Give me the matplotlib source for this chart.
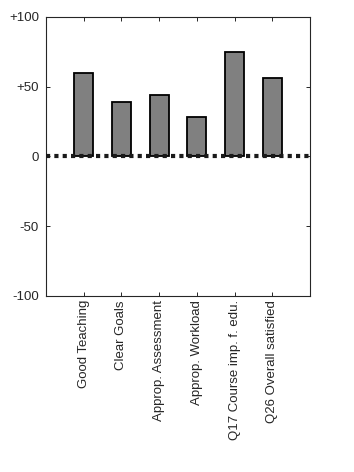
import matplotlib.pyplot as plt
import numpy as np

plt.rcParams['font.family'] = ['Liberation Sans', 'DejaVu Sans']

categories = ['Good Teaching', 'Clear Goals', 'Approp. Assessment',
              'Approp. Workload', 'Q17 Course imp. f. edu.', 'Q26 Overall satisfied']
values = [60, 39, 44, 28, 75, 56]
ytick_vals = [-100, -50, 0, 50, 100]
ytick_labels = ['-100', '-50', '0', '+50', '+100']

fig = plt.figure(figsize=(3.54, 4.72), dpi=100)
ax = fig.add_axes([0.130, 0.373, 0.746, 0.591])

x = np.arange(1, len(categories) + 1)
ax.bar(x, values, width=0.5, color='#808080', edgecolor='black', linewidth=1.3, zorder=2)
ax.plot([0, len(categories) + 1], [0, 0], color='#1a1a1a', linewidth=3,
        linestyle=(0, (1, 1)), zorder=3, solid_capstyle='butt')

ax.set_xlim(0, len(categories) + 1)
ax.set_ylim(-100, 100)
ax.set_xticks(x)
ax.set_xticklabels(categories, rotation=90, fontsize=9.5, color='#262626')
ax.set_yticks(ytick_vals)
ax.set_yticklabels(ytick_labels, fontsize=9.5, color='#262626')
ax.tick_params(direction='in', top=True, right=True, length=3, width=0.7, color='#262626')
ax.tick_params(axis='y', pad=5)
ax.tick_params(axis='x', pad=3)
for s in ax.spines.values():
    s.set_color('#262626')
    s.set_linewidth(0.8)

fig.savefig('out.png', dpi=100)
